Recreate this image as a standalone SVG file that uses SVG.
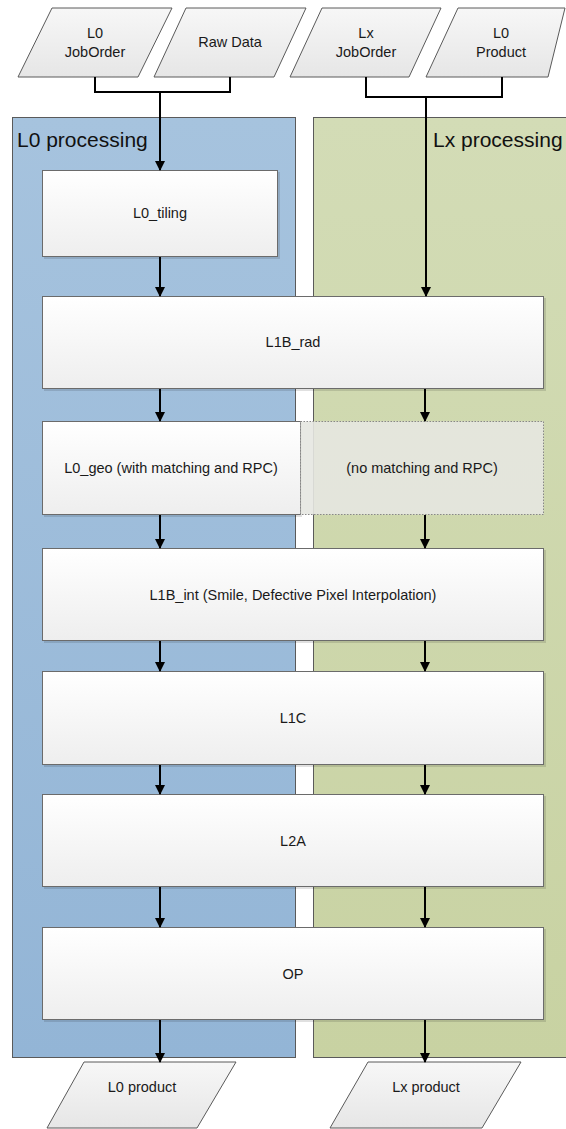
<svg xmlns="http://www.w3.org/2000/svg" width="566" height="1129" viewBox="0 0 566 1129">
<defs>
<linearGradient id="gBox" x1="0" y1="0" x2="0" y2="1"><stop offset="0" stop-color="#ffffff"/><stop offset="1" stop-color="#eeeeee"/></linearGradient>
<linearGradient id="gPar" x1="0" y1="0" x2="0" y2="1"><stop offset="0" stop-color="#f7f7f7"/><stop offset="1" stop-color="#e6e6e6"/></linearGradient>
<linearGradient id="gBlue" x1="0" y1="0" x2="0" y2="1"><stop offset="0" stop-color="#a6c3de"/><stop offset="1" stop-color="#93b5d6"/></linearGradient>
<linearGradient id="gGreen" x1="0" y1="0" x2="0" y2="1"><stop offset="0" stop-color="#d3dcb6"/><stop offset="1" stop-color="#c8d2a2"/></linearGradient>
<marker id="arr" markerWidth="10" markerHeight="10" viewBox="0 0 10 10" refX="9" refY="5" orient="auto" markerUnits="userSpaceOnUse">
<path d="M0,0 L10,5 L0,10 z" fill="#000"/>
</marker>
</defs>
<style>
.panel{stroke:#5a5a5a;stroke-width:1}
.box{fill:url(#gBox);stroke:#6b6b6b;stroke-width:1}
.shadow{fill:#000;opacity:0.12}
.par{fill:url(#gPar);stroke:#5a5a5a;stroke-width:1}
.t{font-family:"Liberation Sans",Arial,sans-serif;font-size:14.5px;fill:#1a1a1a;text-anchor:middle}
.title{font-family:"Liberation Sans",Arial,sans-serif;font-size:21px;fill:#111}
.c{fill:none;stroke:#000;stroke-width:2}
.a{fill:none;stroke:#000;stroke-width:2;marker-end:url(#arr)}
</style>
<g id="panel-l0">
<rect class="panel" x="12.5" y="117.5" width="283" height="940" fill="url(#gBlue)"/>
<text class="title" x="17" y="147">L0 processing</text>
</g>
<g id="panel-lx">
<rect class="panel" x="313.5" y="117.5" width="262" height="940" fill="url(#gGreen)"/>
<text class="title" x="433" y="147">Lx processing</text>
</g>
<g id="in-l0-joborder">
<polygon class="par" points="18,77 52,8 172,8 138,77"/>
<text class="t" x="95" y="38">L0</text>
<text class="t" x="95" y="57">JobOrder</text>
</g>
<g id="in-raw-data">
<polygon class="par" points="154,77 186,8 306,8 274,77"/>
<text class="t" x="230" y="47">Raw Data</text>
</g>
<g id="in-lx-joborder">
<polygon class="par" points="290,77 322,8 441,8 409,77"/>
<text class="t" x="366" y="38">Lx</text>
<text class="t" x="366" y="57">JobOrder</text>
</g>
<g id="in-l0-product">
<polygon class="par" points="426,77 458,8 565,8 548,77"/>
<text class="t" x="501" y="38">L0</text>
<text class="t" x="501" y="57">Product</text>
</g>
<g id="l0-tiling">
<rect class="shadow" x="44" y="172" width="236" height="87"/>
<rect class="box" x="42.5" y="170.5" width="235" height="86"/>
<text class="t" x="160" y="218">L0_tiling</text>
</g>
<g id="l1b-rad">
<rect class="shadow" x="44" y="298" width="502" height="93"/>
<rect class="box" x="42.5" y="296.5" width="501" height="92"/>
<text class="t" x="293" y="347">L1B_rad</text>
</g>
<g id="l0-geo">
<rect class="shadow" x="44" y="423" width="258" height="94"/>
<rect class="box" x="42.5" y="421.5" width="258" height="93"/>
<text class="t" x="171" y="473">L0_geo (with matching and RPC)</text>
</g>
<g id="lx-geo">
<rect x="300.5" y="421.5" width="243" height="93" fill="#e6e7e1" fill-opacity="0.9" stroke="#888" stroke-width="1" stroke-dasharray="1.5,1.5"/>
<text class="t" x="422" y="473">(no matching and RPC)</text>
</g>
<g id="l1b-int">
<rect class="shadow" x="44" y="550" width="502" height="93"/>
<rect class="box" x="42.5" y="548.5" width="501" height="92"/>
<text class="t" x="293" y="600">L1B_int (Smile, Defective Pixel Interpolation)</text>
</g>
<g id="l1c">
<rect class="shadow" x="44" y="673" width="502" height="94"/>
<rect class="box" x="42.5" y="671.5" width="501" height="93"/>
<text class="t" x="293" y="723">L1C</text>
</g>
<g id="l2a">
<rect class="shadow" x="44" y="796" width="502" height="93"/>
<rect class="box" x="42.5" y="794.5" width="501" height="92"/>
<text class="t" x="293" y="846">L2A</text>
</g>
<g id="op">
<rect class="shadow" x="44" y="929" width="502" height="93"/>
<rect class="box" x="42.5" y="927.5" width="501" height="92"/>
<text class="t" x="293" y="979">OP</text>
</g>
<g id="out-l0-product">
<polygon class="par" points="47,1128 84,1062 236,1062 197,1128"/>
<text class="t" x="142" y="1092">L0 product</text>
</g>
<g id="out-lx-product">
<polygon class="par" points="330,1128 368,1062 521,1062 482,1128"/>
<text class="t" x="426" y="1092">Lx product</text>
</g>
<g id="connectors">
<path class="c" d="M95,77 V92 H230 V77"/>
<path class="a" d="M160,92 V170"/>
<path class="c" d="M366,77 V97 H502 V77"/>
<path class="a" d="M426,97 V296"/>
<path class="a" d="M160,257 V296"/>
<path class="a" d="M160,389 V421"/>
<path class="a" d="M425,389 V421"/>
<path class="a" d="M160,515 V548"/>
<path class="a" d="M425,515 V548"/>
<path class="a" d="M160,641 V671"/>
<path class="a" d="M425,641 V671"/>
<path class="a" d="M160,765 V794"/>
<path class="a" d="M425,765 V794"/>
<path class="a" d="M160,887 V927"/>
<path class="a" d="M425,887 V927"/>
<path class="a" d="M160,1020 V1062"/>
<path class="a" d="M425,1020 V1062"/>
</g>
</svg>
